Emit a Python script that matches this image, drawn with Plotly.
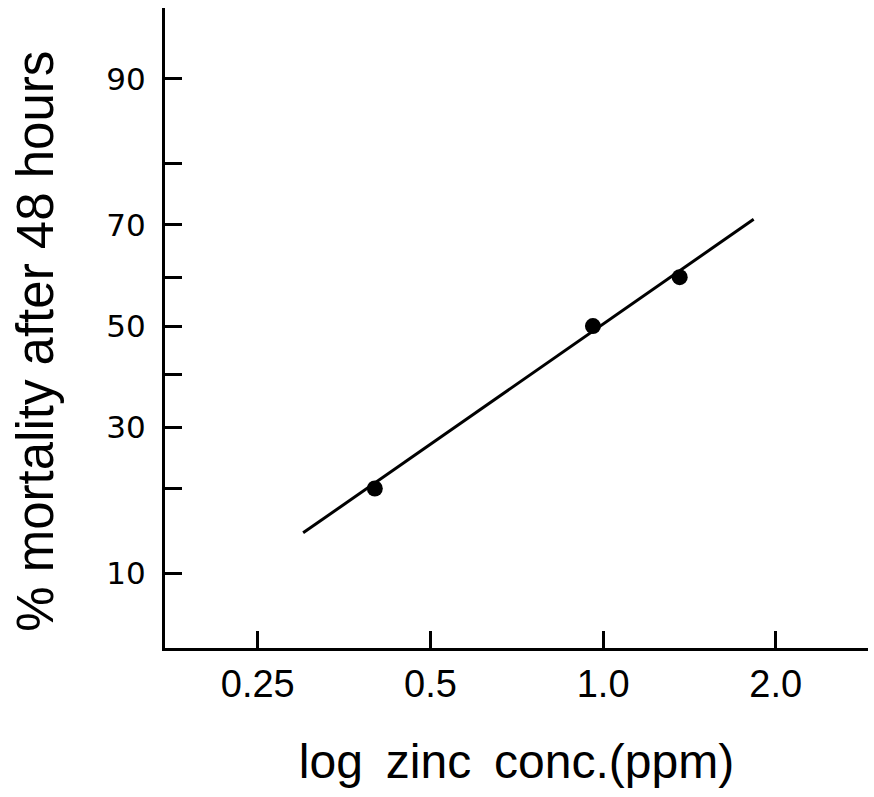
import plotly.graph_objects as go
from statistics import NormalDist
import math

# Data
conc = [0.40, 0.96, 1.36]          # zinc concentration, ppm
mortality = [20, 50, 60]           # % mortality after 48 h
fit_conc = [0.30, 1.83]
fit_mortality = [14.2, 71.0]

x_tickvals = [0.25, 0.5, 1.0, 2.0]
x_ticktext = ["0.25", "0.5", "1.0", "2.0"]
y_tickpct = [10, 20, 30, 40, 50, 60, 70, 80, 90]
y_ticktext = ["10", "", "30", "", "50", "", "70", "", "90"]
x_title = "log\u00a0\u2009zinc\u00a0\u2009conc.(ppm)"
y_title = "%\u00a0mortality after 48 hours"

nd = NormalDist()
def probit(p):
    return nd.inv_cdf(p / 100.0)

FONT = "Liberation Sans, Arial, Helvetica, sans-serif"
YTICKFONT = "DejaVu Sans, Liberation Sans, sans-serif"

fig = go.Figure()
fig.add_trace(go.Scatter(
    x=fit_conc, y=[probit(v) for v in fit_mortality],
    mode="lines", line=dict(color="black", width=3),
    showlegend=False, hoverinfo="skip"))
fig.add_trace(go.Scatter(
    x=conc, y=[probit(v) for v in mortality],
    mode="markers", marker=dict(color="black", size=16),
    showlegend=False))

fig.update_layout(
    width=874, height=797,
    paper_bgcolor="white", plot_bgcolor="white",
    margin=dict(l=165, r=6, t=8, b=149),
    font=dict(family=FONT, color="black"),
)
fig.update_xaxes(
    type="log", automargin=False,
    range=[math.log10(0.1723), math.log10(2.896)],
    tickvals=x_tickvals, ticktext=x_ticktext,
    tickfont=dict(size=38, family=FONT, color="black"),
    ticks="inside", ticklen=17, tickwidth=3, tickcolor="black",
    showline=True, linewidth=3, linecolor="black",
    showgrid=False, zeroline=False,
    ticklabelstandoff=0,
    title=dict(text=x_title,
               font=dict(size=48, family=FONT, color="black"), standoff=41),
)
fig.update_yaxes(
    automargin=False,
    range=[-1.668, 1.648],
    tickvals=[probit(v) for v in y_tickpct], ticktext=y_ticktext,
    tickfont=dict(size=31, family=YTICKFONT, color="black"),
    ticks="inside", ticklen=17, tickwidth=3, tickcolor="black",
    showline=True, linewidth=3, linecolor="black",
    showgrid=False, zeroline=False,
    ticklabelstandoff=10,
)
fig.add_annotation(
    text=y_title, textangle=-90,
    xref="paper", yref="paper", x=-0.1835, y=0.48,
    xanchor="center", yanchor="middle", showarrow=False,
    font=dict(size=51, family=FONT, color="black"),
)

fig.write_html(
    "out.html",
    config={"displayModeBar": False},
    post_script="document.body.style.margin='0';document.body.style.overflow='hidden';",
)
